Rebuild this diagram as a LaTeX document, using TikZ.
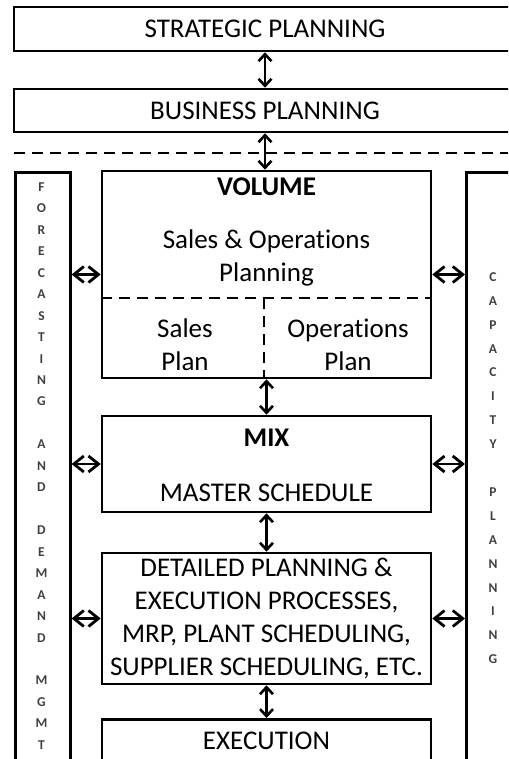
\documentclass[tikz,border=0pt]{standalone}
\usepackage{fontspec}
\setmainfont{Carlito}[Ligatures=NoCommon]
\usetikzlibrary{arrows.meta,positioning,calc}

\tikzset{
  box/.style={draw, line width=2.6pt, rectangle, inner sep=0pt},
  lbl/.style={font=\fontsize{27}{33}\selectfont, inner sep=0pt, align=center},
  bold/.style={font=\fontsize{27}{33}\selectfont\bfseries},
  side/.style={font=\fontsize{13.5}{14}\selectfont\bfseries, text=black!75, inner sep=0pt},
  biarrow/.style={line width=2.6pt, {Straight Barb[length=7pt,width=13pt]}-{Straight Barb[length=7pt,width=13pt]}},
  sidearrow/.style={line width=2.8pt, {Straight Barb[length=10pt,width=16pt]}-{Straight Barb[length=10pt,width=16pt]}},
  sep/.style={line width=2.6pt, dash pattern=on 11pt off 7pt},
}

\begin{document}
\begin{tikzpicture}[x=1pt,y=-1pt]
  \useasboundingbox (0,0) rectangle (508,759);
  \clip (0,0) rectangle (508,759);
  % top planning levels
  \node (strat) [box, lbl, minimum width=502pt, minimum height=44pt] at (265,29) {STRATEGIC PLANNING};
  \node (biz) [box, lbl, minimum width=502pt, minimum height=43pt] at (265,110.5) {BUSINESS PLANNING};
  \coordinate (cut) at (14,153);
  \draw[sep] (cut) -- ++(494,0);
  % side columns
  \node (fcst) [box, minimum width=55pt, minimum height=640pt, anchor=north west] at (14,171) {};
  \node (cap) [box, minimum width=90pt, minimum height=640pt, anchor=north west] at (465,171) {};
  \foreach \ch [count=\i from 0] in {F,O,R,E,C,A,S,T,I,N,G,{},A,N,D,{},D,E,M,A,N,D,{},M,G,M,T}
    \node (f\i) [side] at (41.5,187+21.46*\i) {\ch};
  \foreach \ch [count=\i from 0] in {C,A,P,A,C,I,T,Y,{},P,L,A,N,N,I,N,G}
    \node (c\i) [side] at (493,277+23.9*\i) {\ch};
  % VOLUME
  \node (vol) [box, minimum width=329pt, minimum height=207pt] at (266.5,274.5) {};
  \node (voltitle) [lbl, bold] at (266.5,187) {VOLUME};
  \node (sop) [lbl] at (266.5,258) {Sales \& Operations\\Planning};
  \coordinate (mid) at (264,298);
  \draw[sep] (mid -| vol.west) -- (mid -| vol.east);
  \draw[sep] (mid) -- (mid |- vol.south);
  \node (sales) [lbl] at (185,345) {Sales\\Plan};
  \node (ops) [lbl] at (348,345) {Operations\\Plan};
  % MIX
  \node (mix) [box, minimum width=329pt, minimum height=96pt] at (266.5,464) {};
  \node (mixtitle) [lbl, bold] at (266.5,438) {MIX};
  \node (mps) [lbl] at (266.5,493) {MASTER SCHEDULE};
  % detailed planning and execution
  \node (detail) [box, lbl, minimum width=329pt, minimum height=131pt] at (266.5,618.5)
    {DETAILED PLANNING \&\\EXECUTION PROCESSES,\\MRP, PLANT SCHEDULING,\\SUPPLIER SCHEDULING, ETC.};
  \node (exec) [box, lbl, minimum width=329pt, minimum height=44pt, anchor=north] at (266.5,718) {EXECUTION};
  % arrows
  \draw[biarrow] (strat.south) -- (biz.north);
  \draw[biarrow] (biz.south) -- (biz.south |- vol.north);
  \draw[biarrow] (vol.south) -- (mix.north);
  \draw[biarrow] (mix.south) -- (detail.north);
  \draw[biarrow] (detail.south) -- (exec.north);
  \foreach \b in {vol,mix,detail} {
    \draw[sidearrow] (fcst.east |- \b) -- (\b.west);
    \draw[sidearrow] (\b.east) -- (\b.east -| cap.west);
  }
\end{tikzpicture}
\end{document}
